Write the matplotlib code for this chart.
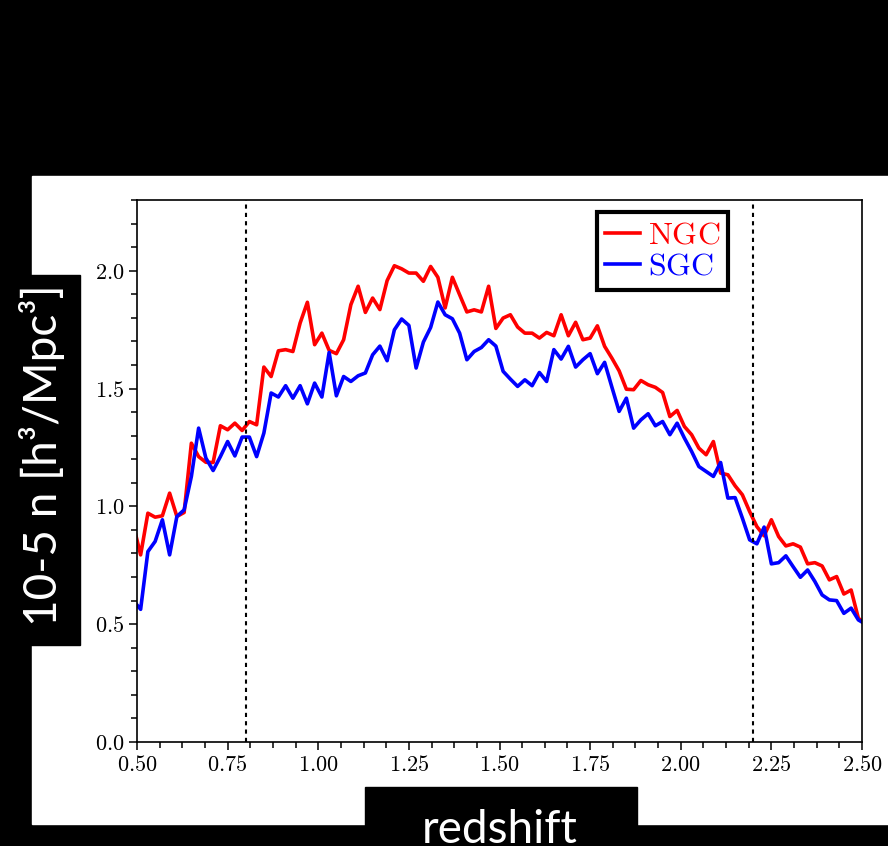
import numpy as np
import matplotlib
matplotlib.use('Agg')
import matplotlib.pyplot as plt
from matplotlib.patches import Rectangle
from matplotlib.ticker import MultipleLocator, AutoMinorLocator, FuncFormatter

plt.rcParams['mathtext.fontset'] = 'cm'

## number density per redshift bin (units of 1e-5 h^3/Mpc^3)
z = np.arange(0.49, 2.52, 0.02)

ngc = [0.92, 0.794, 0.971, 0.954, 0.96, 1.056, 0.957, 0.974, 1.268, 1.211,
       1.187, 1.186, 1.342, 1.325, 1.353, 1.322, 1.36, 1.346, 1.591, 1.551,
       1.66, 1.665, 1.657, 1.778, 1.866, 1.686, 1.735, 1.662, 1.648, 1.707,
       1.856, 1.934, 1.823, 1.884, 1.835, 1.958, 2.021, 2.008, 1.99, 1.99,
       1.955, 2.018, 1.972, 1.842, 1.972, 1.898, 1.825, 1.834, 1.825, 1.934,
       1.755, 1.799, 1.813, 1.761, 1.735, 1.735, 1.714, 1.738, 1.724, 1.813,
       1.724, 1.781, 1.707, 1.714, 1.766, 1.679, 1.629, 1.575, 1.497, 1.495,
       1.534, 1.516, 1.505, 1.483, 1.381, 1.407, 1.339, 1.304, 1.247, 1.219,
       1.275, 1.141, 1.134, 1.087, 1.049, 0.978, 0.914, 0.875, 0.943, 0.872,
       0.832, 0.841, 0.827, 0.756, 0.761, 0.747, 0.688, 0.702, 0.628, 0.645,
       0.525, 0.50]

sgc = [0.60, 0.563, 0.808, 0.851, 0.943, 0.794, 0.957, 0.985, 1.127, 1.332,
       1.205, 1.152, 1.211, 1.275, 1.214, 1.294, 1.294, 1.211, 1.311, 1.481,
       1.464, 1.512, 1.459, 1.512, 1.435, 1.523, 1.464, 1.653, 1.469, 1.551,
       1.53, 1.554, 1.566, 1.643, 1.68, 1.618, 1.749, 1.795, 1.768, 1.587,
       1.697, 1.759, 1.867, 1.813, 1.796, 1.735, 1.622, 1.657, 1.674, 1.707,
       1.68, 1.573, 1.54, 1.509, 1.537, 1.512, 1.568, 1.53, 1.665, 1.625,
       1.679, 1.591, 1.622, 1.648, 1.563, 1.611, 1.506, 1.403, 1.459, 1.332,
       1.367, 1.393, 1.342, 1.36, 1.304, 1.353, 1.29, 1.233, 1.169, 1.148,
       1.127, 1.186, 1.035, 1.037, 0.95, 0.858, 0.841, 0.912, 0.756, 0.761,
       0.79, 0.744, 0.699, 0.73, 0.681, 0.624, 0.603, 0.60, 0.546, 0.568,
       0.518, 0.50]

z_cuts = [0.8, 2.2]

W, H = 888, 846
fig = plt.figure(figsize=(W / 100, H / 100), dpi=100, facecolor='black')

def box(x0, y0, x1, y1, color):
    fig.patches.append(Rectangle((x0 / W, 1 - y1 / H), (x1 - x0) / W, (y1 - y0) / H,
                                 transform=fig.transFigure, color=color, zorder=-1))

box(32, 176, 888, 824, 'white')
box(0, 275, 80, 645, 'black')
box(365, 787, 637, 846, 'black')

ax = fig.add_axes([137 / W, 1 - 742 / H, (862 - 137) / W, (742 - 200) / H])
ax.plot(z, ngc, color='red', lw=2.6, label=r'$\mathrm{NGC}$')
ax.plot(z, sgc, color='blue', lw=2.6, label=r'$\mathrm{SGC}$')
for zc in z_cuts:
    ax.axvline(zc, color='black', ls=(0, (2, 2)), lw=1.5)

ax.set_xlim(0.5, 2.5)
ax.set_ylim(0, 2.3)
ax.xaxis.set_major_locator(MultipleLocator(0.25))
ax.xaxis.set_minor_locator(AutoMinorLocator(4))
ax.yaxis.set_major_locator(MultipleLocator(0.5))
ax.yaxis.set_minor_locator(AutoMinorLocator(5))
ax.xaxis.set_major_formatter(FuncFormatter(lambda v, p: r'$%.2f$' % v))
ax.yaxis.set_major_formatter(FuncFormatter(lambda v, p: r'$%.1f$' % v))
ax.tick_params(which='both', direction='out', labelsize=16, width=1.1, pad=3)
ax.tick_params(which='major', length=6)
ax.tick_params(which='minor', length=4)
for s in ax.spines.values():
    s.set_linewidth(1.2)

leg = ax.legend(loc='upper right', bbox_to_anchor=(0.815, 0.978), borderaxespad=0,
                fontsize=23, handlelength=1.1, handletextpad=0.25, labelspacing=0.0,
                borderpad=0.25, fancybox=False, framealpha=1)
leg.get_frame().set_edgecolor('black')
leg.get_frame().set_linewidth(3)
for t, c in zip(leg.get_texts(), ['red', 'blue']):
    t.set_color(c)

fig.text(42 / W, 1 - 455 / H, '10-5 n [h³/Mpc³]', rotation=90, color='white',
         family='Lato', fontsize=33, ha='center', va='center')
fig.text(500 / W, 1 - 830 / H, 'redshift', color='white', family='Lato',
         fontsize=33, ha='center', va='center')

fig.savefig('out.png', dpi=100, facecolor='black')
